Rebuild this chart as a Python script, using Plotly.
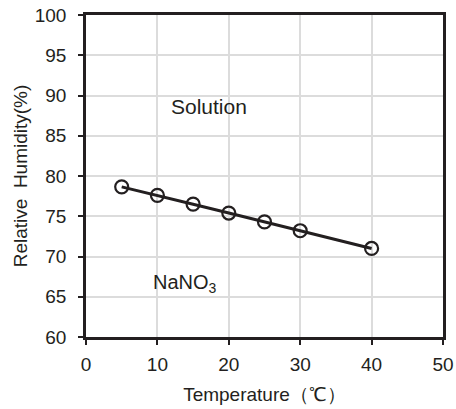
import plotly.graph_objects as go

temperature = [5, 10, 15, 20, 25, 30, 40]
humidity = [78.65, 77.6, 76.5, 75.4, 74.3, 73.2, 71.0]
x_ticks = [0, 10, 20, 30, 40, 50]
y_ticks = [60, 65, 70, 75, 80, 85, 90, 95, 100]

FONT = "Liberation Sans, Arial, sans-serif"
INK = "#231f20"

fig = go.Figure()
fig.add_trace(go.Scatter(
    x=temperature, y=humidity, mode="lines+markers",
    line=dict(color=INK, width=3),
    marker=dict(symbol="circle-open", size=13, color=INK, line=dict(width=2.2, color=INK)),
    showlegend=False,
))

fig.add_annotation(x=17.2, y=88.6, text="Solution", showarrow=False,
                   font=dict(family=FONT, size=21, color=INK))
fig.add_annotation(x=13.8, y=66.6, text="NaNO<sub>3</sub>", showarrow=False,
                   font=dict(family=FONT, size=20, color=INK))

axis_common = dict(
    showline=True, linecolor=INK, linewidth=2.5, mirror=True,
    ticks="outside", ticklen=5, tickwidth=1.5, tickcolor=INK,
    showgrid=True, gridcolor="#dcdcdc", gridwidth=1.8,
    zeroline=False, automargin=False,
    tickfont=dict(family=FONT, size=19, color=INK),
)

fig.update_xaxes(range=[0, 50], tickvals=x_ticks, ticklabelstandoff=3,
                 title=dict(text="Temperature（℃）", font=dict(family=FONT, size=19, color=INK)),
                 **axis_common)
fig.update_yaxes(range=[60, 100], tickvals=y_ticks, ticklabelstandoff=8,
                 title=dict(text="Relative&nbsp; Humidity(%)", font=dict(family=FONT, size=19, color=INK),
                            standoff=3),
                 **axis_common)

fig.update_layout(
    width=456, height=409,
    margin=dict(l=86, r=13, t=15, b=72),
    paper_bgcolor="white", plot_bgcolor="white",
)

fig.write_html("out.html")
